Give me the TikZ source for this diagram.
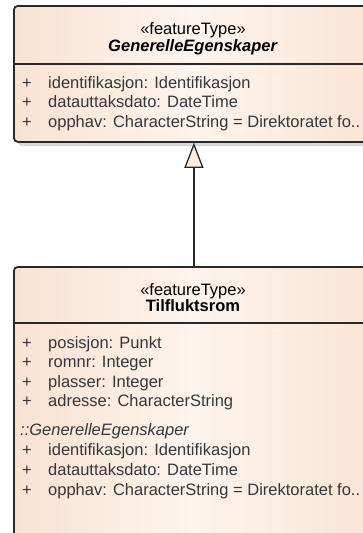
\documentclass[tikz,border=0pt]{standalone}
\usepackage{fontspec}
\setmainfont{Liberation Sans}
\usetikzlibrary{arrows.meta}

\definecolor{boxedge}{RGB}{40,40,40}
\definecolor{peachleft}{RGB}{249,226,210}
\definecolor{peachmid}{RGB}{253,244,237}
\definecolor{peachright}{RGB}{250,228,213}
\definecolor{shadowgray}{RGB}{216,216,216}
\definecolor{tipfill}{RGB}{250,240,225}
\definecolor{attrtext}{RGB}{55,55,55}

\tikzset{
    classbox/.style={draw=boxedge, line width=1.8pt, rounded corners=4pt,
        left color=peachleft, right color=peachright, middle color=peachmid,
        anchor=north west, inner sep=0pt, minimum width=360pt},
    classshadow/.style={fill=shadowgray, rounded corners=4pt,
        anchor=north west, inner sep=0pt, minimum width=360pt},
    umltext/.style={inner sep=0pt, text height=12pt, text depth=3.5pt,
        font=\fontsize{16.5}{19.5}\selectfont},
    stereo/.style={umltext, anchor=center},
    attr/.style={umltext, anchor=west, text=attrtext},
    vis/.style={umltext, anchor=west, text=attrtext},
    inherits/.style={draw=boxedge, line width=1.3pt,
        -{Triangle[length=25pt, width=19pt, fill=tipfill, line width=1.3pt]}}
}

\begin{document}
\begin{tikzpicture}[x=1pt, y=-1pt]
    \useasboundingbox (0,0) rectangle (363,533);

    % GenerelleEgenskaper
    \node[classshadow, minimum height=136pt] (genshadow) at (18,10) {};
    \node[classbox, minimum height=136pt] (gen) at (13,5) {};
    \draw[boxedge, line width=1.8pt] (13,64) coordinate (gensepl) -- (373,64) coordinate (gensepr);
    \node[stereo] (genstereo) at (193,30) {«featureType»};
    \node[stereo] (genname) at (193,47) {\textbf{\textit{GenerelleEgenskaper}}};
    \node[vis] (genv1) at (22,84) {+};
    \node[attr] (gena1) at (48,84) {identifikasjon: Identifikasjon};
    \node[vis] (genv2) at (22,103.5) {+};
    \node[attr] (gena2) at (48,103.5) {datauttaksdato: DateTime};
    \node[vis] (genv3) at (22,123) {+};
    \node[attr] (gena3) at (48,123) {opphav: CharacterString = Direktoratet fo..};

    % Tilfluktsrom
    \node[classbox, minimum height=272pt] (til) at (13,266) {};
    \draw[boxedge, line width=1.8pt] (13,323) coordinate (tilsepl) -- (373,323) coordinate (tilsepr);
    \node[stereo] (tilstereo) at (193,291) {«featureType»};
    \node[stereo] (tilname) at (193,307) {\textbf{Tilfluktsrom}};
    \node[vis] (tilv1) at (22,344) {+};
    \node[attr] (tila1) at (48,344) {posisjon: Punkt};
    \node[vis] (tilv2) at (22,363.5) {+};
    \node[attr] (tila2) at (48,363.5) {romnr: Integer};
    \node[vis] (tilv3) at (22,383) {+};
    \node[attr] (tila3) at (48,383) {plasser: Integer};
    \node[vis] (tilv4) at (22,402.5) {+};
    \node[attr] (tila4) at (48,402.5) {adresse: CharacterString};
    \node[attr] (tilinh) at (20,431) {\textit{::GenerelleEgenskaper}};
    \node[vis] (tilv5) at (22,451) {+};
    \node[attr] (tila5) at (48,451) {identifikasjon: Identifikasjon};
    \node[vis] (tilv6) at (22,471) {+};
    \node[attr] (tila6) at (48,471) {datauttaksdato: DateTime};
    \node[vis] (tilv7) at (22,491) {+};
    \node[attr] (tila7) at (48,491) {opphav: CharacterString = Direktoratet fo..};

    % generalisation
    \draw[inherits] (til.north) -- (gen.south);
\end{tikzpicture}
\end{document}
